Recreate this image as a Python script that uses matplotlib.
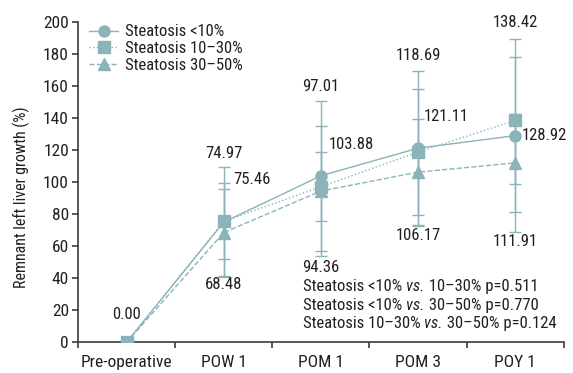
import matplotlib
matplotlib.use('Agg')

import numpy as np
import matplotlib.pyplot as plt
from matplotlib import font_manager
from matplotlib.lines import Line2D

# --- data ---
CATEGORIES = ['Pre-operative', 'POW 1', 'POM 1', 'POM 3', 'POY 1']
SERIES_NAMES = ['Steatosis <10%', 'Steatosis 10–30%', 'Steatosis 30–50%']
MEAN_LT10 = [0.00, 74.97, 103.88, 121.11, 128.92]
MEAN_10_30 = [0.00, 75.46, 97.01, 118.69, 138.42]
MEAN_30_50 = [0.00, 68.48, 94.36, 106.17, 111.91]
SD_LT10 = [0.0, 34.2, 46.6, 48.3, 60.3]
SD_10_30 = [0.0, 23.7, 21.5, 39.1, 39.8]
SD_30_50 = [0.0, 26.9, 40.7, 32.9, 30.8]
P_LINES = [('Steatosis <10% ', ' 10–30% p=0.511'),
           ('Steatosis <10% ', ' 30–50% p=0.770'),
           ('Steatosis 10–30% ', ' 30–50% p=0.124')]

# --- style ---
COLOR = '#8AB4BA'
TEXT = '#231F20'
AXIS = '#3C3C3C'

# look for a narrow face (reference uses a condensed font)
cands = [f for f in font_manager.fontManager.ttflist
         if f.stretch in ('condensed', 'semi-condensed', 'extra-condensed')
         or 'Narrow' in f.name or 'Condensed' in f.name]
pref = ['Liberation Sans Narrow', 'Roboto Condensed', 'Open Sans Condensed',
        'Noto Sans', 'DejaVu Sans']
FONT, STRETCH = 'DejaVu Sans', 'normal'
for p in pref:
    hit = [f for f in cands if f.name == p]
    if hit:
        FONT, STRETCH = p, hit[0].stretch
        break
plt.rcParams['font.family'] = [FONT, 'DejaVu Sans']
plt.rcParams['font.stretch'] = STRETCH
plt.rcParams['font.size'] = 12

fig = plt.figure(figsize=(5.73, 3.73), dpi=100)
ax = fig.add_axes([0.136, 0.082, 0.848, 0.860])

x = np.arange(len(CATEGORIES))
styles = [('o', '-'), ('s', ':'), ('^', '--')]
means = [MEAN_LT10, MEAN_10_30, MEAN_30_50]
sds = [SD_LT10, SD_10_30, SD_30_50]
order = [0, 2, 1]
handles = {}
for i in order:
    mk, ls = styles[i]
    ax.errorbar(x, means[i], yerr=sds[i], color=COLOR, ecolor=COLOR,
                elinewidth=1.0, capsize=4.3, capthick=1.0, lw=1.0, ls=ls,
                marker=mk, markersize=8, zorder=3 + order.index(i))
    handles[i] = Line2D([], [], color=COLOR, lw=1.0, ls=ls, marker=mk,
                        markersize=8, label=SERIES_NAMES[i])

# value labels (x, y of text centre)
labels = [
    (0, 17.3, '0.00', 'center'),
    (1, 117.5, '74.97', 'center'),
    (1.098, 101.4, '75.46', 'left'),
    (1, 36.3, '68.48', 'center'),
    (2, 159.7, '97.01', 'center'),
    (2.082, 123.7, '103.88', 'left'),
    (2, 46.9, '94.36', 'center'),
    (3, 179.0, '118.69', 'center'),
    (3.06, 140.9, '121.11', 'left'),
    (3, 66.7, '106.17', 'center'),
    (4, 199.2, '138.42', 'center'),
    (4.065, 129.3, '128.92', 'left'),
    (4, 63.0, '111.91', 'center'),
]
for lx, ly, t, ha in labels:
    ax.text(lx, ly, t, ha=ha, va='center', color=TEXT, fontsize=12,
            clip_on=False)

# p-values with italic "vs."
for i, (a, b) in enumerate(P_LINES):
    y0 = 35 - i * 11.7
    t1 = ax.text(1.815, y0, a, ha='left', va='center', color=TEXT, fontsize=12)
    t2 = ax.annotate('vs.', xy=(1, 0.5), xycoords=t1, ha='left', va='center',
                     color=TEXT, fontsize=12, style='italic')
    ax.annotate(b, xy=(1, 0.5), xycoords=t2, ha='left', va='center',
                color=TEXT, fontsize=12)

ax.set_xlim(-0.5, 4.5)
ax.set_ylim(0, 200)
ax.set_yticks(np.arange(0, 201, 20))
ax.set_xticks(x)
ax.set_xticklabels(CATEGORIES)
ax.set_xticks(np.arange(-0.5, 4.6, 1), minor=True)
ax.tick_params(axis='x', which='major', length=0, pad=9, labelsize=12.5,
               colors=TEXT)
ax.tick_params(axis='x', which='minor', length=4.5, width=1.2, color=AXIS)
ax.tick_params(axis='y', length=4.5, width=1.2, color=AXIS, labelsize=12.5,
               labelcolor=TEXT, pad=2)
ax.set_ylabel('Remnant left liver growth (%)', fontsize=11.5, color=TEXT)
ax.yaxis.set_label_coords(-0.099, 0.453)
for sp in ['top', 'right']:
    ax.spines[sp].set_visible(False)
for sp in ['left', 'bottom']:
    ax.spines[sp].set_linewidth(1.2)
    ax.spines[sp].set_color(AXIS)
ax.spines['bottom'].set_bounds(-0.5, 4.5)

leg = ax.legend(handles=[handles[0], handles[1], handles[2]], loc='upper left',
                bbox_to_anchor=(0.009, 1.012), frameon=False,
                handlelength=1.75, handletextpad=0.4, labelspacing=0.1,
                fontsize=12, borderaxespad=0)
for t in leg.get_texts():
    t.set_color(TEXT)

fig.savefig('out.png', dpi=100)
